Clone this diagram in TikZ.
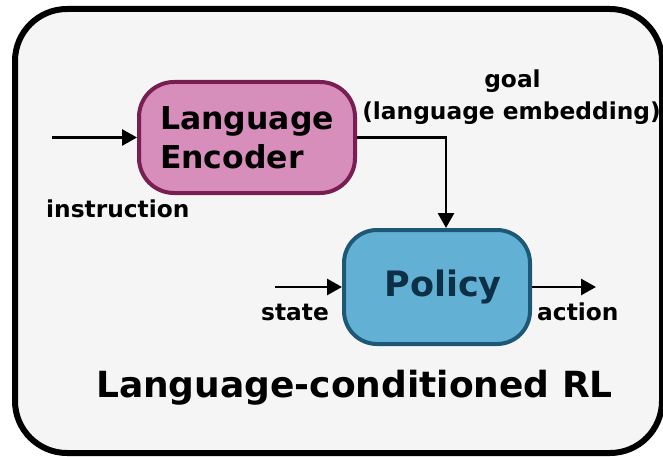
\documentclass[tikz,border=0pt]{standalone}
\usepackage{fontspec}
\setmainfont{DejaVu Sans}
\usetikzlibrary{arrows.meta}

\definecolor{panelbg}{HTML}{F5F5F5}
\definecolor{encfill}{HTML}{D88EBA}
\definecolor{encdraw}{HTML}{781E50}
\definecolor{polfill}{HTML}{63B0D5}
\definecolor{poldraw}{HTML}{1D5977}
\definecolor{poltext}{HTML}{0E3047}

\newcommand{\fs}[2]{\fontsize{#1}{#2}\selectfont\bfseries}

\tikzset{
  panel/.style={draw=black, line width=6pt, fill=panelbg, rounded corners=52pt},
  blockbox/.style={rounded corners=35pt, line width=4pt, inner sep=0pt},
  flow/.style={line width=2.8pt, -{Triangle[length=15pt,width=16pt]}},
  lbl/.style={font=\fs{23.3}{32}, text=black, inner sep=0pt},
}

\begin{document}
\begin{tikzpicture}[x=1pt,y=-1pt]
  \useasboundingbox (0,0) rectangle (663,457);
  \clip (0,0) rectangle (663,457);

  % outer frame
  \draw[panel] (15,9) rectangle (662,453);

  % blocks
  \node[blockbox, draw=encdraw, fill=encfill, minimum width=216pt, minimum height=111pt,
        align=left, font=\fs{31.5}{39}] (enc) at (247,137.5) {Language\\Encoder};
  \node[blockbox, rounded corners=33pt, draw=poldraw, fill=polfill, minimum width=186pt,
        minimum height=114pt, font=\fs{35}{40}, text=poltext] (pol) at (437,287)
        {\hspace*{12pt}Policy};

  % free ends of the connectors
  \coordinate (instr) at (52,137.5);
  \coordinate (bend) at (446,137.5);
  \coordinate (statein) at (275,287);
  \coordinate (actout) at (596,287);

  % connectors
  \draw[flow] (instr) -- (enc.west);
  \draw[flow] (enc.east) -- (bend) -- (bend |- pol.north);
  \draw[flow] (statein) -- (pol.west);
  \draw[flow] (pol.east) -- (actout);

  % labels
  \node[lbl, anchor=base west] (linstr) at (46,217) {instruction};
  \node[lbl, anchor=base] (lgoal) at (512.5,88) {goal};
  \node[lbl, anchor=base] (lemb) at (511.5,120) {(language embedding)};
  \node[lbl, anchor=base west] (lstate) at (261,320) {state};
  \node[lbl, anchor=base west] (laction) at (537,320) {action};

  % caption
  \node[font=\fs{36}{40}, inner sep=0pt, anchor=base] (title) at (354.5,397)
        {Language-conditioned RL};
\end{tikzpicture}
\end{document}
